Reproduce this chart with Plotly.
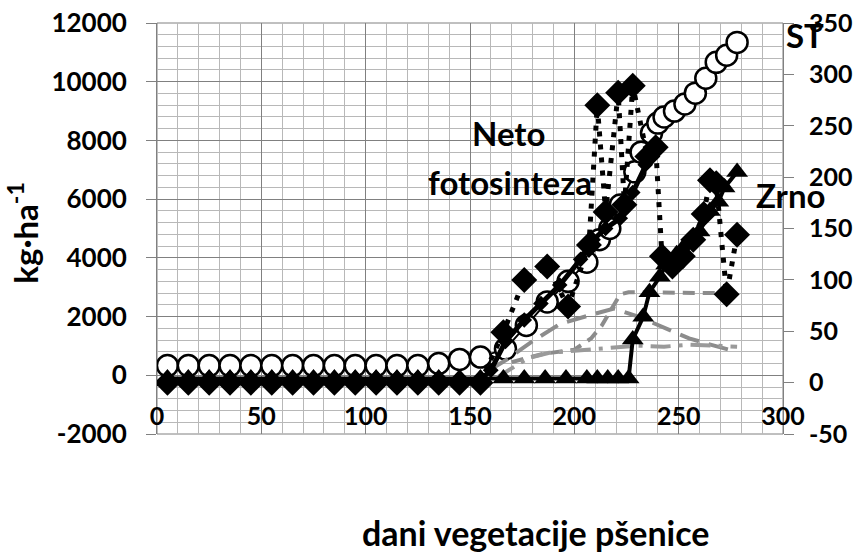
import plotly.graph_objects as go

# --- data -------------------------------------------------------------
# ST (left axis, kg/ha)
st_x = [5, 15, 25, 35, 45, 55, 65, 75, 85, 95, 105, 115, 125, 135, 145, 155,
        167, 177, 187, 197, 206, 212, 217, 222, 229, 232, 237, 240, 243, 248,
        253, 258, 263, 268, 273, 278]
st_y = [330, 330, 330, 330, 330, 330, 330, 330, 330, 330, 330, 330, 330, 400,
        540, 620, 900, 1700, 2500, 3200, 3850, 4620, 5000, 5800, 6930, 7600,
        8250, 8590, 8800, 9000, 9240, 9610, 10120, 10660, 10900, 11340]

# Neto fotosinteza, solid line (right axis)
nf_x = [145, 155, 160, 167, 176, 184, 193, 203, 209, 215, 222, 228, 234, 239]
nf_y = [0, 3, 12, 40, 61, 77, 95, 120, 139, 150, 160, 185, 212, 232]

# Neto fotosinteza, dotted series (right axis)
nd_x = [5, 15, 25, 35, 45, 55, 65, 75, 85, 95, 105, 115, 125, 135, 145, 155,
        166, 176, 187, 197, 207, 211, 215, 221, 224, 228, 235, 239, 242, 247,
        252, 257, 262, 265, 268, 273, 278]
nd_y = [0, 0, 0, 0, 0, 0, 0, 0, 0, 0, 0, 0, 0, 0, 0, 0,
        49, 100, 113, 74, 134, 270, 166, 282, 173, 289, 220, 229, 123, 113,
        123, 139, 164, 197, 194, 86, 144]

# Zrno (right axis)
zr_x = [5, 15, 25, 35, 45, 55, 65, 75, 85, 95, 105, 115, 125, 135, 145,
        155, 166, 176, 186, 196, 206, 211, 216, 221, 226,
        228, 233, 236, 241, 244, 249, 254, 260, 265, 269, 272, 278]
zr_y = [4, 4, 4, 4, 4, 4, 4, 4, 4, 4, 4, 4, 4, 4, 4,
        4, 4, 4, 4, 4, 4, 4, 4, 4, 4,
        42, 64, 88, 103, 115, 125, 136, 147, 167, 176, 190, 205]

# grey auxiliary series (right axis)
g1_x = [160, 168, 179, 193, 208, 219, 231, 243, 255, 267, 278]
g1_y = [13, 23, 39, 57, 66, 72, 64, 54, 43, 36, 30]
g2_x = [170, 185, 200, 208, 213, 218, 222, 226, 250, 273]
g2_y = [20, 28, 32, 43, 55, 73, 86, 88, 87, 87]
g3_x = [163, 178, 188, 199, 215, 230, 243, 255, 278]
g3_y = [5, 24, 29, 31, 34, 36, 35, 37, 35]

# axis ticks
x_ticks = [0, 50, 100, 150, 200, 250, 300]
y_ticks = [-2000, 0, 2000, 4000, 6000, 8000, 10000, 12000]
y_tick_text = ["-2000", "0", "2000", "4000", "6000", "8000", "10000", "12000"]
y2_ticks = [-50, 0, 50, 100, 150, 200, 250, 300, 350]
y2_tick_text = ["-50", "0", "50", "100", "150", "200", "250", "300", "350"]

FONT = "Lato"
GREY = "#8c8c8c"

fig = go.Figure()

# grey lines
fig.add_trace(go.Scatter(x=g1_x, y=g1_y, yaxis="y2", mode="lines",
                         line=dict(color=GREY, width=4, dash="20px,10px")))
fig.add_trace(go.Scatter(x=g2_x, y=g2_y, yaxis="y2", mode="lines",
                         line=dict(color=GREY, width=4, dash="12px,8px")))
fig.add_trace(go.Scatter(x=g3_x, y=g3_y, yaxis="y2", mode="lines",
                         line=dict(color="#9a9a9a", width=4,
                                   dash="20px,8px,4px,8px")))

# thick solid line with small diamonds
fig.add_trace(go.Scatter(x=nf_x, y=nf_y, yaxis="y2", mode="lines+markers",
                         line=dict(color="black", width=5),
                         marker=dict(symbol="diamond", size=12, color="black")))

# open circles
fig.add_trace(go.Scatter(x=st_x, y=st_y, mode="lines+markers",
                         line=dict(color="black", width=2),
                         marker=dict(symbol="circle", size=21, color="white",
                                     line=dict(color="black", width=2.5))))

# triangles
fig.add_trace(go.Scatter(x=zr_x, y=zr_y, yaxis="y2", mode="lines+markers",
                         line=dict(color="black", width=4),
                         marker=dict(symbol="triangle-up", size=19,
                                     color="black")))

# dotted line with large diamonds
fig.add_trace(go.Scatter(x=nd_x, y=nd_y, yaxis="y2", mode="lines+markers",
                         line=dict(color="black", width=5, dash="5px,8px"),
                         marker=dict(symbol="diamond", size=20, color="black")))

tickfont = dict(family=FONT, size=25, color="black", weight=700)

fig.update_layout(
    width=860, height=552,
    margin=dict(l=157, r=77, t=23, b=118, autoexpand=False),
    paper_bgcolor="white", plot_bgcolor="white",
    showlegend=False,
    xaxis=dict(
        range=[0, 300], tickvals=x_ticks, ticktext=[str(v) for v in x_ticks],
        ticks="", showline=False, automargin=False,
        anchor="free", position=0.085, zeroline=False,
        showgrid=True, gridcolor="#808080", gridwidth=1,
        minor=dict(dtick=10, showgrid=True, gridcolor="#b8b8b8", gridwidth=1),
        tickfont=tickfont,
    ),
    yaxis=dict(
        range=[-2000, 12000], tickvals=y_ticks, ticktext=y_tick_text,
        zeroline=False, automargin=False,
        showgrid=True, gridcolor="#808080", gridwidth=1,
        minor=dict(dtick=400, showgrid=True, gridcolor="#b8b8b8", gridwidth=1),
        showline=True, linecolor="#808080", linewidth=1,
        ticks="outside", ticklen=10, tickcolor="#808080",
        ticklabelstandoff=14,
        tickfont=dict(family=FONT, size=26, color="black", weight=700),
    ),
    yaxis2=dict(
        range=[-50, 350], tickvals=y2_ticks, ticktext=y2_tick_text,
        overlaying="y", side="right", automargin=False,
        showgrid=False, zeroline=False,
        showline=True, linecolor="#808080", linewidth=1,
        ticks="outside", ticklen=10, tickcolor="#808080",
        ticklabelstandoff=10,
        tickfont=tickfont,
    ),
    shapes=[dict(type="rect", xref="paper", yref="paper", x0=0, x1=1, y0=0, y1=1,
                 line=dict(color="#808080", width=1), layer="below")],
)

ann_font = dict(family=FONT, size=33, color="black", weight=700)
labels = [
    ("Neto", 0.561, 0.733),
    ("fotosinteza", 0.564, 0.612),
    ("Zrno", 1.012, 0.582),
    ("ST", 1.035, 0.970),
]
for text, ax_, ay_ in labels:
    fig.add_annotation(text=text, xref="paper", yref="paper", x=ax_, y=ay_,
                       showarrow=False, font=ann_font,
                       xanchor="center", yanchor="middle")

fig.add_annotation(text="dani vegetacije pšenice", xref="paper", yref="paper",
                   x=0.605, y=-0.24, showarrow=False,
                   font=dict(family=FONT, size=34, color="black", weight=700),
                   xanchor="center", yanchor="middle")
fig.add_annotation(text="kg·ha<sup>-1</sup>", xref="paper", yref="paper",
                   x=-0.214, y=0.49, showarrow=False, textangle=-90,
                   font=dict(family=FONT, size=33, color="black", weight=700),
                   xanchor="center", yanchor="middle")

fig.write_html("out.html")
